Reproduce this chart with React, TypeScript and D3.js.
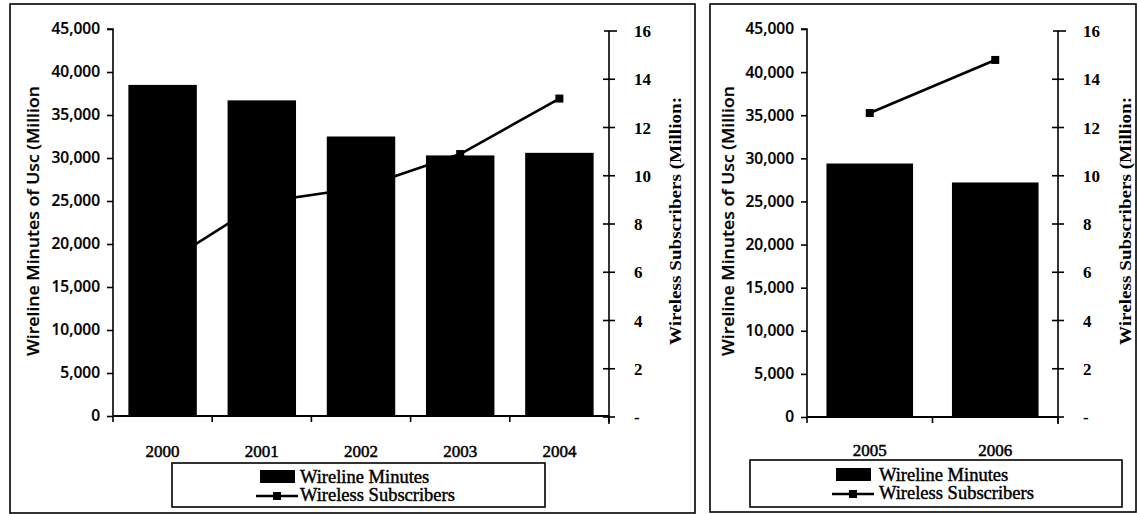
import React, { useEffect, useRef } from "react";
import * as d3 from "d3";

// Wireline minutes of use (millions) and wireless subscribers (millions)
const yearsEarly = ["2000", "2001", "2002", "2003", "2004"];
const wirelineEarly = [38500, 36700, 32500, 30300, 30600];
const wirelessEarly = [6.3, 8.9, 9.5, 10.9, 13.2];

const yearsLate = ["2005", "2006"];
const wirelineLate = [29400, 27200];
const wirelessLate = [12.6, 14.8];

const minuteTicks = [0, 5000, 10000, 15000, 20000, 25000, 30000, 35000, 40000, 45000];
const subscriberTicks = [0, 2, 4, 6, 8, 10, 12, 14, 16];

const seriesNames = ["Wireline Minutes", "Wireless Subscribers"];
const minutesTitle = "Wireline Minutes of Usc (Million";
const subscribersTitle = "Wireless Subscribers (Million:";

const SERIF = "'Liberation Serif', 'Times New Roman', serif";
const SANS = "'Open Sans', 'Noto Sans', sans-serif";

type Panel = {
  years: string[];
  minutes: number[];
  subs: number[];
  frame: { x: number; y: number; w: number; h: number };
  plot: { left: number; right: number; top: number; bottom: number; rTop: number; rBottom: number };
  leftTitleX: number;
  rightTitleX: number;
  legend: { x: number; y: number; w: number; h: number; swatchX: number; textX: number; row1: number; row2: number };
  catY: number;
};

const panels: Panel[] = [
  {
    years: yearsEarly,
    minutes: wirelineEarly,
    subs: wirelessEarly,
    frame: { x: 10, y: 4, w: 685, h: 509 },
    plot: { left: 113, right: 609, top: 29, bottom: 416, rTop: 31, rBottom: 417 },
    leftTitleX: 39,
    rightTitleX: 681,
    legend: { x: 172, y: 463, w: 373, h: 44, swatchX: 260, textX: 300, row1: 483, row2: 501 },
    catY: 457,
  },
  {
    years: yearsLate,
    minutes: wirelineLate,
    subs: wirelessLate,
    frame: { x: 710, y: 4, w: 426, h: 508 },
    plot: { left: 807, right: 1058, top: 29, bottom: 417, rTop: 31, rBottom: 417 },
    leftTitleX: 734,
    rightTitleX: 1131,
    legend: { x: 750, y: 460, w: 372, h: 47, swatchX: 836, textX: 879, row1: 481, row2: 499 },
    catY: 456,
  },
];

// slightly heavier text, like a photocopied print
function ink(sel: d3.Selection<SVGTextElement, any, any, any>, w = 0.4) {
  sel.attr("fill", "#000").attr("stroke", "#000").attr("stroke-width", w);
}

function drawPanel(svg: d3.Selection<SVGSVGElement, unknown, null, undefined>, p: Panel) {
  const g = svg.append("g");
  const { left, right, top, bottom, rTop, rBottom } = p.plot;

  // frame
  g.append("rect")
    .attr("x", p.frame.x)
    .attr("y", p.frame.y)
    .attr("width", p.frame.w)
    .attr("height", p.frame.h)
    .attr("fill", "none")
    .attr("stroke", "#000")
    .attr("stroke-width", 1.6);

  const x = d3.scaleBand<string>().domain(p.years).range([left, right]).paddingInner(0.31).paddingOuter(0.155);
  const yL = d3.scaleLinear().domain([0, 45000]).range([bottom, top]);
  const yR = d3.scaleLinear().domain([0, 16]).range([rBottom, rTop]);

  // wireless subscribers line (sits behind the bars)
  const pts = p.years.map((yr, i) => [x(yr)! + x.bandwidth() / 2, yR(p.subs[i])] as [number, number]);
  g.append("path")
    .attr("d", d3.line()(pts)!)
    .attr("fill", "none")
    .attr("stroke", "#000")
    .attr("stroke-width", 2.6);
  g.selectAll("rect.mk")
    .data(pts)
    .enter()
    .append("rect")
    .attr("class", "mk")
    .attr("x", (d) => d[0] - 4)
    .attr("y", (d) => d[1] - 4)
    .attr("width", 8)
    .attr("height", 8)
    .attr("fill", "#000");

  // wireline minutes bars
  g.selectAll("rect.bar")
    .data(p.years)
    .enter()
    .append("rect")
    .attr("class", "bar")
    .attr("x", (d) => x(d)!)
    .attr("y", (_, i) => yL(p.minutes[i]))
    .attr("width", x.bandwidth())
    .attr("height", (_, i) => bottom - yL(p.minutes[i]))
    .attr("fill", "#000");

  // left axis
  const la = g.append("g").attr("transform", `translate(${left},0)`);
  la.call(
    d3
      .axisLeft(yL)
      .tickValues(minuteTicks)
      .tickSize(6)
      .tickPadding(7)
      .tickFormat((d) => d3.format(",")(d as number))
  );
  la.select(".domain").attr("stroke", "#000").attr("stroke-width", 1.6).attr("d", `M-6,${top}H0V${bottom}`);
  la.selectAll(".tick line").attr("stroke", "#000").attr("stroke-width", 1.6);
  la.selectAll<SVGTextElement, unknown>(".tick text")
    .style("font-family", SANS)
    .style("font-size", "15.5px")
    .style("font-weight", "600")
    .call((s) => ink(s, 0.2));

  // bottom axis: baseline with category separators
  g.append("line")
    .attr("x1", left)
    .attr("x2", right)
    .attr("y1", bottom)
    .attr("y2", bottom)
    .attr("stroke", "#000")
    .attr("stroke-width", 1.8);
  const step = x.step();
  d3.range(p.years.length + 1).forEach((i) => {
    const tx = left + i * step;
    g.append("line")
      .attr("x1", tx)
      .attr("x2", tx)
      .attr("y1", bottom)
      .attr("y2", bottom + 6)
      .attr("stroke", "#000")
      .attr("stroke-width", 1.6);
  });
  g.selectAll<SVGTextElement, string>("text.cat")
    .data(p.years)
    .enter()
    .append("text")
    .attr("class", "cat")
    .attr("x", (d) => x(d)! + x.bandwidth() / 2)
    .attr("y", p.catY)
    .attr("text-anchor", "middle")
    .style("font-family", SERIF)
    .style("font-size", "17px")
    .text((d) => d)
    .call((s) => ink(s, 0.5));

  // right axis with crossing ticks
  g.append("line")
    .attr("x1", right)
    .attr("x2", right)
    .attr("y1", rTop)
    .attr("y2", rBottom + 7)
    .attr("stroke", "#000")
    .attr("stroke-width", 1.6);
  subscriberTicks.forEach((v) => {
    const ty = yR(v);
    const isTop = v === 16;
    g.append("line")
      .attr("x1", right - (isTop ? 5 : 6))
      .attr("x2", right + (isTop ? 8 : 6))
      .attr("y1", ty)
      .attr("y2", ty)
      .attr("stroke", "#000")
      .attr("stroke-width", 1.6);
    g.append("text")
      .attr("x", right + 25)
      .attr("y", ty + 6)
      .style("font-family", SERIF)
      .style("font-size", "17px")
      .style("font-weight", "bold")
      .text(v === 0 ? "-" : String(v));
  });

  // axis titles
  g.append("text")
    .attr("transform", `translate(${p.leftTitleX},221) rotate(-90)`)
    .attr("text-anchor", "middle")
    .attr("textLength", 270)
    .attr("lengthAdjust", "spacingAndGlyphs")
    .style("font-family", SANS)
    .style("font-size", "16px")
    .style("font-weight", "600")
    .text(minutesTitle)
    .call((s) => ink(s, 0.2));
  g.append("text")
    .attr("transform", `translate(${p.rightTitleX},221) rotate(-90)`)
    .attr("text-anchor", "middle")
    .attr("textLength", 248)
    .attr("lengthAdjust", "spacingAndGlyphs")
    .style("font-family", SERIF)
    .style("font-size", "16px")
    .style("font-weight", "bold")
    .text(subscribersTitle);

  // legend
  const L = p.legend;
  g.append("rect")
    .attr("x", L.x)
    .attr("y", L.y)
    .attr("width", L.w)
    .attr("height", L.h)
    .attr("fill", "#fff")
    .attr("stroke", "#000")
    .attr("stroke-width", 1.6);
  g.append("rect")
    .attr("x", L.swatchX)
    .attr("y", L.row1 - 13)
    .attr("width", 35)
    .attr("height", 13)
    .attr("fill", "#000");
  const ly = L.row2 - 5;
  g.append("line")
    .attr("x1", L.swatchX - 4)
    .attr("x2", L.swatchX + 38)
    .attr("y1", ly)
    .attr("y2", ly)
    .attr("stroke", "#000")
    .attr("stroke-width", 2.4);
  g.append("rect")
    .attr("x", L.swatchX + 17 - 4)
    .attr("y", ly - 4)
    .attr("width", 8)
    .attr("height", 8)
    .attr("fill", "#000");
  [L.row1, L.row2].forEach((by, i) => {
    g.append("text")
      .attr("x", L.textX)
      .attr("y", by)
      .style("font-family", SERIF)
      .style("font-size", "18.5px")
      .text(seriesNames[i])
      .call((s) => ink(s, 0.45));
  });
}

export default function App() {
  const ref = useRef<SVGSVGElement>(null);
  useEffect(() => {
    if (!ref.current) return;
    const svg = d3.select(ref.current);
    svg.selectAll("*").remove();
    panels.forEach((p) => drawPanel(svg, p));
  }, []);
  return (
    <div style={{ position: "absolute", left: 0, top: 0 }}>
      <svg ref={ref} width={1137} height={514} style={{ display: "block", background: "#fff" }} />
    </div>
  );
}
